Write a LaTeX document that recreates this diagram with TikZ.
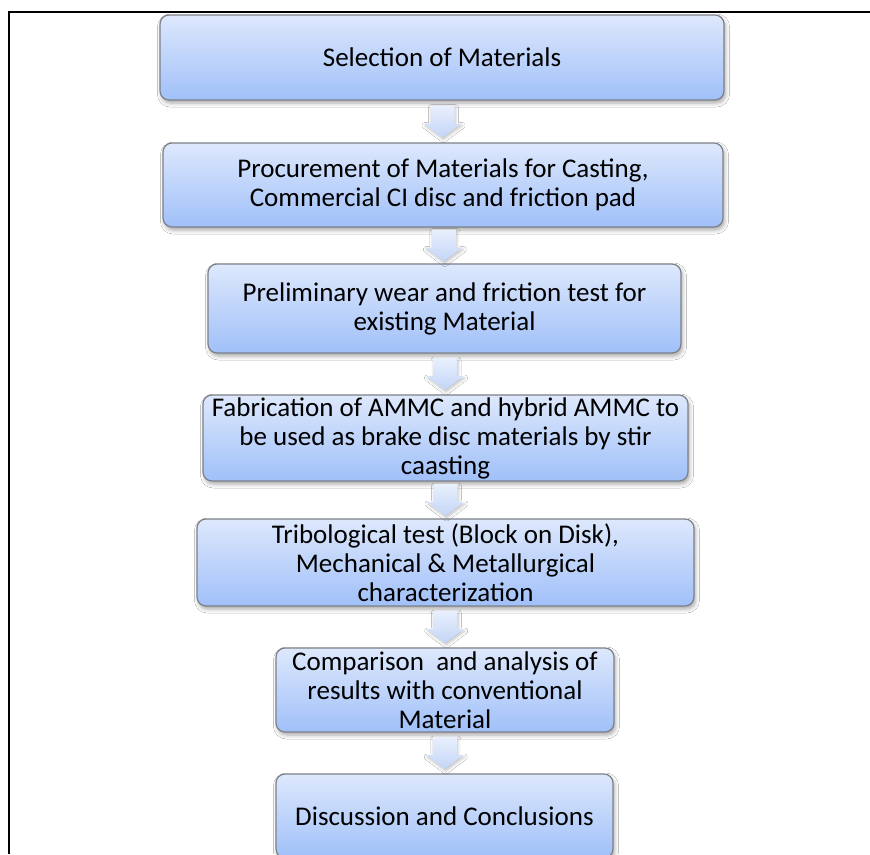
\documentclass[tikz,border=0pt]{standalone}
\usepackage{fontspec}
\setmainfont{Carlito}
\usetikzlibrary{calc,shadows.blur}
\definecolor{boxtop}{RGB}{221,232,252}
\definecolor{boxbot}{RGB}{160,192,249}
\definecolor{boxline}{RGB}{125,128,136}
\definecolor{arrtop}{RGB}{233,240,253}
\definecolor{arrbot}{RGB}{194,213,247}
\begin{document}
\begin{tikzpicture}[x=1pt,y=-1pt,
  stepbox/.style={draw=boxline, line width=1.2pt, rounded corners=9pt,
    top color=boxtop, bottom color=boxbot, inner sep=0pt, align=center,
    font=\fontsize{27}{29}\selectfont,
    blur shadow={shadow xshift=1.5pt,shadow yshift=-3pt,shadow blur radius=4pt,shadow opacity=35}},
  flowarrow/.style={top color=arrtop, bottom color=arrbot, draw=none,
    blur shadow={shadow xshift=1pt,shadow yshift=-2pt,shadow blur radius=3pt,shadow opacity=25}},
  framerule/.style={line width=2.5pt, black}]
\clip (0,0) rectangle (870,854);
\useasboundingbox (0,0) rectangle (870,854);
\fill[white] (0,0) rectangle (870,854);
\draw[framerule] (9,854) -- (9,12) -- (870,12);

\node[stepbox, minimum width=564pt, minimum height=85pt] (b1) at (442,57.5)
  {Selection of Materials};
\node[stepbox, minimum width=560pt, minimum height=84pt] (b2) at (443,185)
  {Procurement of Materials for Casting,\\Commercial CI disc and friction pad};
\node[stepbox, minimum width=473pt, minimum height=89pt] (b3) at (444.5,308.5)
  {Preliminary wear and friction test for\\existing Material};
\node[stepbox, minimum width=485pt, minimum height=86pt] (b4) at (445.5,438)
  {Fabrication of AMMC and hybrid AMMC to\\be used as brake disc materials by stir\\caasting};
\node[stepbox, minimum width=497pt, minimum height=87pt] (b5) at (445.5,562.5)
  {Tribological test (Block on Disk),\\Mechanical \& Metallurgical\\characterization};
\node[stepbox, minimum width=338pt, minimum height=84pt] (b6) at (445,690)
  {Comparison\ \ and analysis of\\results with conventional\\Material};
\node[stepbox, minimum width=337pt, minimum height=84pt] (b7) at (444.5,816)
  {Discussion and Conclusions};

\foreach \a/\b in {b1/b2,b2/b3,b3/b4,b4/b5,b5/b6,b6/b7}{
  \coordinate (m) at ($(\a.south)!0.5!(\b.north)$);
  \path[flowarrow] ($(m)+(-12,-16)$) -- ($(m)+(12,-16)$) -- ($(m)+(12,2)$)
    -- ($(m)+(18.5,2)$) -- ($(m)+(0,16)$) -- ($(m)+(-18.5,2)$)
    -- ($(m)+(-12,2)$) -- cycle;
}
\end{tikzpicture}
\end{document}
